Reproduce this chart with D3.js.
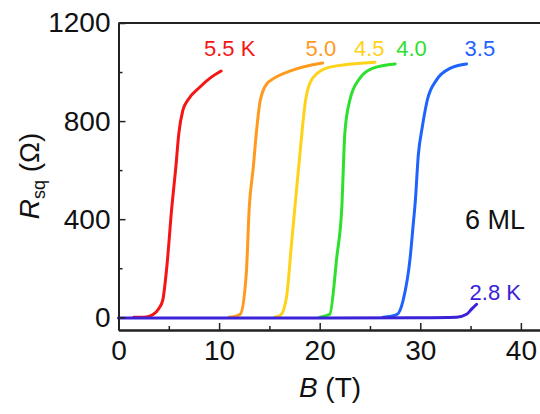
<!DOCTYPE html>
<meta charset="utf-8">
<title>Rsq vs B</title>
<script src="https://d3js.org/d3.v7.min.js"></script>
<style>
  body { margin: 0; background: #fff; }
  svg text { font-family: "Liberation Sans", Arial, sans-serif; }
</style>
<body>
<div id="graph"></div>
<script>
// field (T) / sheet resistance (Ohm)
var b55 = [1.5, 2.5, 3.0, 3.4, 4.0, 4.4, 4.8, 5.3, 5.7, 6.0, 6.4, 6.9, 8.1, 9.1, 10.2];
var r55 = [0, 0, 3, 10, 35, 70, 204, 449, 612, 751, 845, 886, 939, 975, 1004];

var b50 = [11.0, 11.4, 12.1, 12.7, 13.0, 13.4, 13.7, 14.1, 14.8, 15.1, 17.1, 20.3];
var r50 = [0, 2, 12, 176, 449, 612, 751, 886, 955, 965, 1005, 1037];

var b45 = [15.5, 16.1, 16.7, 17.2, 17.6, 18.0, 18.3, 18.6, 19.3, 21.0, 25.5];
var r45 = [0, 8, 82, 300, 478, 650, 780, 886, 975, 1020, 1040];

var b40 = [20.0, 21.0, 21.7, 22.2, 22.5, 23.0, 24.0, 25.3, 27.5];
var r40 = [0, 12, 245, 449, 751, 886, 975, 1016, 1033];

var b35 = [26.3, 27.7, 28.3, 29.0, 29.3, 29.5, 29.8, 30.2, 30.7, 31.6, 33.0, 34.6];
var r35 = [0, 12, 70, 245, 380, 470, 660, 776, 886, 967, 1016, 1033];

var b28 = [0, 10, 20, 30, 33.6, 34.6, 35.1, 35.6];
var r28 = [-3, -3, -3, -2, 0, 12, 33, 53];

var xMajor = [0, 10, 20, 30, 40];
var xMinor = [5, 15, 25, 35];
var yMajor = [0, 400, 800, 1200];
var yMinor = [200, 600, 1000];

var W = 540, H = 414;
var x = d3.scaleLinear().domain([0, 42]).range([118.5, 541]);
var y = d3.scaleLinear().domain([-52, 1200]).range([330, 23]);

var svg = d3.select("#graph").append("svg")
    .attr("width", W).attr("height", H);

var line = d3.line()
    .x(function(d) { return x(d[0]); })
    .y(function(d) { return y(d[1]); })
    .curve(d3.curveMonotoneX);

function pairs(bs, rs) { return bs.map(function(b, i) { return [b, rs[i]]; }); }

var series = [
  { b: b55, r: r55, c: "#f51515" },
  { b: b50, r: r50, c: "#ff9a1e" },
  { b: b45, r: r45, c: "#ffd21a" },
  { b: b40, r: r40, c: "#2ee02e" },
  { b: b35, r: r35, c: "#1f63ff" },
  { b: b28, r: r28, c: "#3a22d8" }
];

series.forEach(function(s) {
  svg.append("path")
      .datum(pairs(s.b, s.r))
      .attr("fill", "none")
      .attr("stroke", s.c)
      .attr("stroke-width", 3)
      .attr("stroke-linecap", "round")
      .attr("d", line);
});

// axes, ticks pointing inward
var axisColor = "#222";
svg.append("g").attr("transform", "translate(0," + y(-52) + ")")
    .call(d3.axisBottom(x).tickValues(xMajor).tickSize(-7).tickSizeOuter(0).tickPadding(10));
svg.append("g").attr("transform", "translate(0," + y(-52) + ")")
    .call(d3.axisBottom(x).tickValues(xMinor).tickSize(-4).tickSizeOuter(0).tickFormat(""));
svg.append("g").attr("transform", "translate(" + x(0) + ",0)")
    .call(d3.axisLeft(y).tickValues(yMajor).tickSize(-7).tickSizeOuter(0).tickPadding(8)
      .tickFormat(d3.format("d")));
svg.append("g").attr("transform", "translate(" + x(0) + ",0)")
    .call(d3.axisLeft(y).tickValues(yMinor).tickSize(-4).tickSizeOuter(0).tickFormat(""));

svg.selectAll(".domain").attr("stroke", axisColor).attr("stroke-width", 2);
svg.selectAll(".tick line").attr("stroke", axisColor).attr("stroke-width", 1.5);
svg.selectAll(".tick text").attr("fill", "#111").style("font-size", "28px");

// top frame line
svg.append("line")
    .attr("x1", x(0)).attr("x2", x(42))
    .attr("y1", y(1200)).attr("y2", y(1200))
    .attr("stroke", axisColor).attr("stroke-width", 2);

// axis titles
var xt = svg.append("text")
    .attr("x", 330).attr("y", 397)
    .attr("text-anchor", "middle")
    .style("font-size", "28px").attr("fill", "#111");
xt.append("tspan").style("font-style", "italic").text("B");
xt.append("tspan").text(" (T)");

var yt = svg.append("text")
    .attr("transform", "translate(39,176) rotate(-90)")
    .attr("text-anchor", "middle")
    .style("font-size", "28px").attr("fill", "#111");
yt.append("tspan").style("font-style", "italic").text("R");
yt.append("tspan").attr("dy", 6).style("font-size", "18px").text("sq");
yt.append("tspan").attr("dy", -6).text(" (Ω)");

// curve labels
var labels = [
  { t: "5.5 K", b: 8.5, r: 1065, c: "#f51515" },
  { t: "5.0", b: 18.6, r: 1065, c: "#ff9a1e" },
  { t: "4.5", b: 23.4, r: 1065, c: "#ffd21a" },
  { t: "4.0", b: 27.6, r: 1065, c: "#2ee02e" },
  { t: "3.5", b: 34.4, r: 1065, c: "#1f63ff" },
  { t: "2.8 K", b: 34.9, r: 72, c: "#3a22d8" }
];
svg.selectAll(".lbl").data(labels).enter().append("text")
    .attr("x", function(d) { return x(d.b); })
    .attr("y", function(d) { return y(d.r); })
    .attr("fill", function(d) { return d.c; })
    .style("font-size", "22px")
    .text(function(d) { return d.t; });

svg.append("text")
    .attr("x", 465).attr("y", 229)
    .style("font-size", "27px").attr("fill", "#111")
    .text("6 ML");
</script>
</body>
